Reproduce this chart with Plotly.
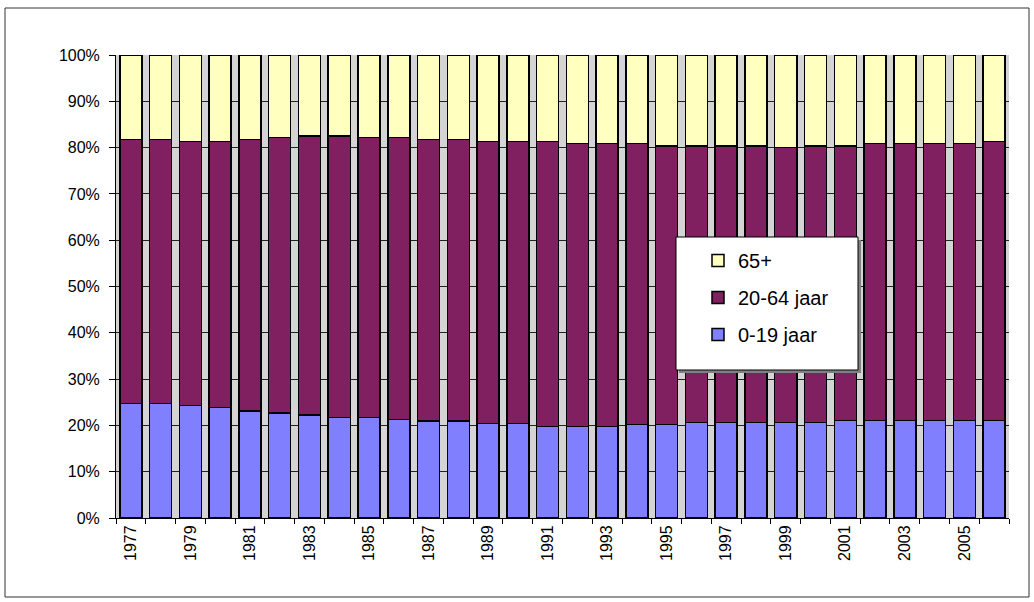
import plotly.graph_objects as go

years = list(range(1977, 2007))
age_0_19 = [24.7, 24.7, 24.3, 23.9, 23.1, 22.7, 22.2, 21.7, 21.7, 21.3,
            20.9, 20.9, 20.4, 20.4, 19.8, 19.8, 19.8, 20.2, 20.2, 20.6,
            20.6, 20.6, 20.6, 20.6, 21.1, 21.1, 21.1, 21.1, 21.1, 21.1]
age_20_64 = [57.0, 57.0, 57.0, 57.4, 58.6, 59.5, 60.3, 60.8, 60.5, 60.9,
             60.8, 60.8, 60.9, 60.9, 61.5, 61.1, 61.1, 60.7, 60.2, 59.8,
             59.8, 59.8, 59.4, 59.8, 59.3, 59.8, 59.8, 59.8, 59.8, 60.2]
age_65 = [18.3, 18.3, 18.7, 18.7, 18.3, 17.8, 17.5, 17.5, 17.8, 17.8,
          18.3, 18.3, 18.7, 18.7, 18.7, 19.1, 19.1, 19.1, 19.6, 19.6,
          19.6, 19.6, 20.0, 19.6, 19.6, 19.1, 19.1, 19.1, 19.1, 18.7]
label_years = list(range(1977, 2007, 2))
y_ticks = list(range(0, 101, 10))

FONT = "Arial, Liberation Sans, sans-serif"
series = [("0-19 jaar", age_0_19, "#8080FF", 3),
          ("20-64 jaar", age_20_64, "#802060", 2),
          ("65+", age_65, "#FFFFC0", 1)]

fig = go.Figure()
for name, vals, col, rank in series:
    fig.add_trace(go.Bar(x=years, y=vals, name=name, legendgroup=name,
                         legendrank=rank,
                         marker=dict(color=col, line=dict(color="black", width=1.5))))

W, H = 1034, 602
L, R, T, B = 116, 1009, 55, 518
pw, ph = R - L, B - T
def px(x): return (x - L) / pw
def py(y): return (B - y) / ph

fig.update_layout(
    width=W, height=H,
    margin=dict(l=L, r=W - R, t=T, b=H - B),
    barmode="stack", bargap=0.26,
    plot_bgcolor="#D4D4D4", paper_bgcolor="white",
    font=dict(family=FONT, color="black"),
    showlegend=True,
    legend=dict(x=px(676), y=py(241), xanchor="left", yanchor="top",
                bgcolor="rgba(0,0,0,0)", borderwidth=0,
                font=dict(size=20, family=FONT),
                traceorder="grouped", tracegroupgap=8,
                indentation=22),
    xaxis=dict(range=[1976.5, 2006.5], tickmode="array", tickvals=label_years,
               ticktext=[str(y) for y in label_years], tickangle=-90,
               ticks="", showgrid=False, showline=True, linecolor="black",
               tickfont=dict(size=16, family=FONT), zeroline=False,
               minor=dict(tick0=0.5, dtick=1, ticks="outside", ticklen=5,
                          tickcolor="black", showgrid=False)),
    yaxis=dict(range=[0, 100], tickmode="array", tickvals=y_ticks,
               ticktext=[f"{v}%" for v in y_ticks], ticks="outside",
               ticklen=6, tickcolor="black", showgrid=True, gridcolor="#222222",
               gridwidth=1, showline=True, linecolor="black", zeroline=False,
               ticklabelstandoff=6,
               tickfont=dict(size=16, family=FONT)),
    shapes=[dict(type="rect", xref="paper", yref="paper",
                 x0=px(5), x1=px(1029), y0=py(597), y1=py(8),
                 line=dict(color="#333333", width=1), layer="below"),
            dict(type="rect", xref="paper", yref="paper",
                 x0=px(679), x1=px(861), y0=py(373), y1=py(240),
                 fillcolor="#808080", line=dict(width=0), layer="above"),
            dict(type="rect", xref="paper", yref="paper",
                 x0=px(676), x1=px(858), y0=py(370), y1=py(237),
                 fillcolor="white", line=dict(color="black", width=1),
                 layer="above")],
)

fig.write_html("out.html", config={"displayModeBar": False},
               post_script="document.body.style.margin='0';")
